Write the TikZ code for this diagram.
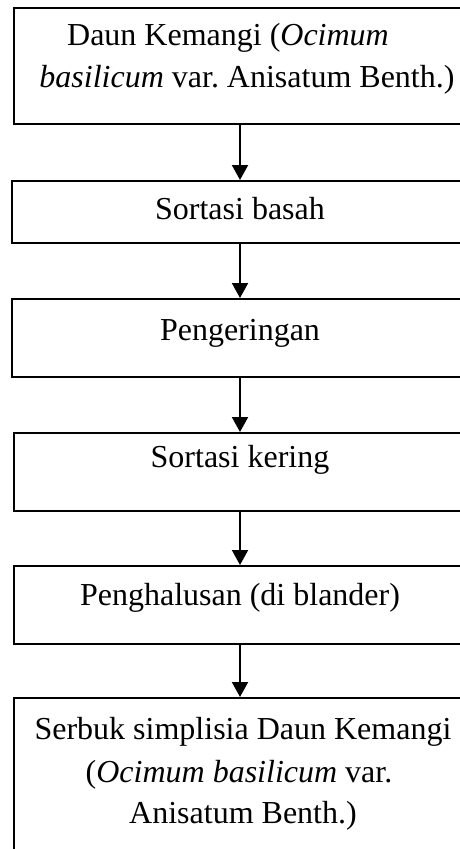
\documentclass[tikz,border=0pt]{standalone}
\usepackage{fontspec}
\setmainfont{Liberation Serif}
\usetikzlibrary{arrows.meta}
\frenchspacing
\begin{document}
\begin{tikzpicture}[x=1pt,y=-1pt,
  box/.style={draw=black,line width=2pt,rectangle,inner sep=0pt,anchor=north west,minimum width=460pt},
  txt/.style={inner sep=0pt,anchor=base,font=\fontsize{32}{42}\selectfont\frenchspacing},
  arr/.style={line width=2pt,-{Triangle[width=16pt,length=15pt]}}]
\useasboundingbox (0,0) rectangle (460,849);
\clip (0,0) rectangle (460,849);
\fill[white] (0,0) rectangle (460,849);
\coordinate (ax) at (240,0);
\node[box,minimum height=116pt] (b1) at (13,7) {};
\node[box,minimum height=62pt] (b2) at (11,180) {};
\node[box,minimum height=78pt] (b3) at (11,298) {};
\node[box,minimum height=78pt] (b4) at (13,432) {};
\node[box,minimum height=78pt] (b5) at (13,565) {};
\node[box,minimum height=220pt] (b6) at (13,697) {};
\node[txt] (t1a) at (228,45) {Daun Kemangi (\textit{Ocimum}};
\node[txt] (t1b) at (247,87) {\textit{basilicum} var. Anisatum Benth.)};
\node[txt] (t2) at (240,219) {Sortasi basah};
\node[txt] (t3) at (240,340) {Pengeringan};
\node[txt] (t4) at (240,467) {Sortasi kering};
\node[txt] (t5) at (240,605) {Penghalusan (di blander)};
\node[txt] (t6a) at (243,739) {Serbuk simplisia Daun Kemangi};
\node[txt] (t6b) at (239,782) {(\textit{Ocimum basilicum} var.};
\node[txt] (t6c) at (243,823) {Anisatum Benth.)};
\draw[arr] (b1.south -| ax) -- (b2.north -| ax);
\draw[arr] (b2.south -| ax) -- (b3.north -| ax);
\draw[arr] (b3.south -| ax) -- (b4.north -| ax);
\draw[arr] (b4.south -| ax) -- (b5.north -| ax);
\draw[arr] (b5.south -| ax) -- (b6.north -| ax);
\end{tikzpicture}
\end{document}
